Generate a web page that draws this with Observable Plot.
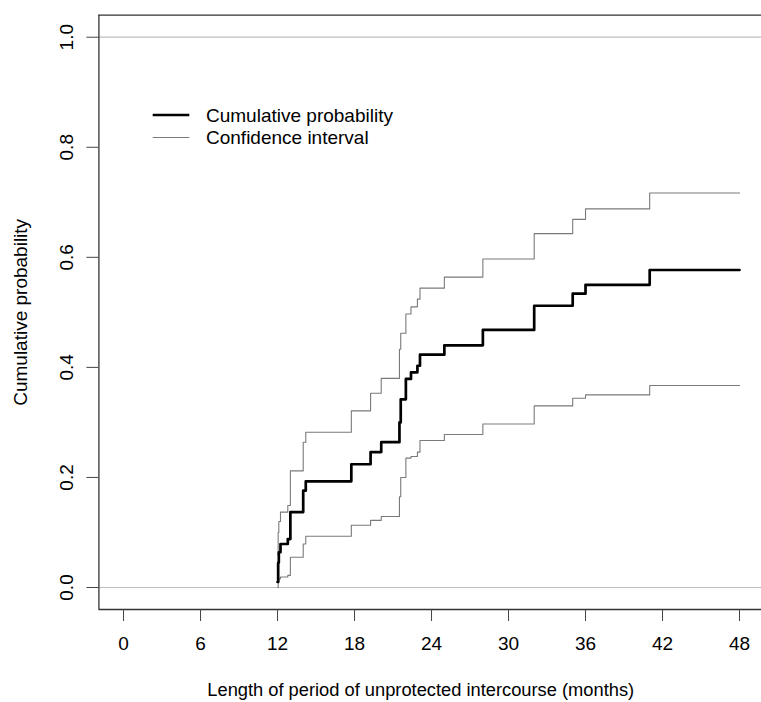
<!DOCTYPE html>
<html><head><meta charset="utf-8">
<script src="https://cdn.jsdelivr.net/npm/d3@7"></script>
<script src="https://cdn.jsdelivr.net/npm/@observablehq/plot@0.6"></script>
<style>
body{margin:0;background:#fff}
#chart{position:relative;width:761px;height:702px}
#chart svg{display:block}
</style>
</head><body><div id="chart"></div>
<script>
// Event times (months) and step values
const months   = [12.0, 12.05, 12.1, 12.23, 12.8, 13.0, 14.0, 14.2, 17.75, 19.25, 20.08, 21.5, 21.6, 22.0, 22.4, 22.9, 23.1, 25, 28, 32, 35, 36, 41, 48];
const cumProb  = [0.010, 0.045, 0.064, 0.079, 0.088, 0.137, 0.176, 0.193, 0.224, 0.246, 0.264, 0.300, 0.342, 0.379, 0.391, 0.403, 0.423, 0.440, 0.468, 0.512, 0.534, 0.550, 0.577, 0.577];
const lowerCI  = [0.000, 0.010, 0.016, 0.019, 0.022, 0.055, 0.079, 0.093, 0.113, 0.122, 0.129, 0.165, 0.200, 0.235, 0.238, 0.246, 0.267, 0.278, 0.297, 0.330, 0.344, 0.350, 0.367, 0.367];
const upperCI  = [0.060, 0.100, 0.120, 0.137, 0.149, 0.212, 0.264, 0.282, 0.321, 0.353, 0.380, 0.433, 0.462, 0.497, 0.510, 0.524, 0.544, 0.564, 0.597, 0.643, 0.669, 0.688, 0.717, 0.717];
const xTicks   = [0, 6, 12, 18, 24, 30, 36, 42, 48];
const yTicks   = [0, 0.2, 0.4, 0.6, 0.8, 1.0];
const refLines = [0, 1];
const legendLabels = ["Cumulative probability", "Confidence interval"];
const xTitle = "Length of period of unprotected intercourse (months)";
const yTitle = "Cumulative probability";

const data = months.map((t, i) => ({t, cum: cumProb[i], lo: lowerCI[i], hi: upperCI[i]}));

const W = 761, H = 702, mL = 98.4, mT = 14.7, mB = 93;
const xDomain = [-1.92, 49.92], yDomain = [-0.04, 1.04];
const pxPerMonth = 12.833;
const xRange = [mL, mL + (xDomain[1] - xDomain[0]) * pxPerMonth];
const font = "'Liberation Sans', Arial, Helvetica, sans-serif";
const fs = 19;

const chart = Plot.plot({
  width: W, height: H,
  marginLeft: mL, marginRight: 0, marginTop: mT, marginBottom: mB,
  x: {domain: xDomain, range: xRange},
  y: {domain: yDomain},
  style: {fontFamily: font, fontSize: fs + "px", color: "#000", background: "#fff", overflow: "hidden"},
  marks: [
    Plot.ruleY(refLines, {stroke: "#bdbdbd", strokeWidth: 1.2}),
    Plot.line(data, {x: "t", y: "lo", curve: "step-after", stroke: "#7a7a7a", strokeWidth: 1.1}),
    Plot.line(data, {x: "t", y: "hi", curve: "step-after", stroke: "#7a7a7a", strokeWidth: 1.1}),
    Plot.line(data, {x: "t", y: "cum", curve: "step-after", stroke: "#000", strokeWidth: 2.7}),
    Plot.ruleY([yDomain[0], yDomain[1]], {stroke: "#333", strokeWidth: 1.3}),
    Plot.ruleX([xDomain[0]], {stroke: "#333", strokeWidth: 1.3}),
    Plot.axisX({ticks: xTicks, tickSize: 12, tickPadding: 15, tickFormat: d => String(d), label: null, stroke: "#444", fontSize: fs}),
    Plot.axisY({ticks: yTicks, tickSize: 12, tickFormat: () => "", label: null, stroke: "#444"}),
    Plot.text(yTicks, {y: d => d, text: d => d.toFixed(1), frameAnchor: "left", dx: -32.4, rotate: -90, textAnchor: "middle", lineAnchor: "middle", fontSize: fs}),
    Plot.text([yTitle], {text: d => d, frameAnchor: "left", dx: -78, rotate: -90, textAnchor: "middle", lineAnchor: "middle", fontSize: fs}),
    Plot.text([xTitle], {text: d => d, frameAnchor: "bottom", dy: 81, dx: -9.5, textAnchor: "middle", lineAnchor: "middle", fontSize: 18.3})
  ]
});
document.getElementById("chart").appendChild(chart);

// Legend (inside the plot area, top-left)
const svg = d3.select(chart);
const lg = svg.append("g").attr("font-family", font).attr("font-size", fs).attr("text-anchor", "start");
const legendItems = [
  {label: legendLabels[0], stroke: "#000", width: 2.7, y: 115},
  {label: legendLabels[1], stroke: "#7a7a7a", width: 1.1, y: 137.5}
];
legendItems.forEach(it => {
  lg.append("line").attr("x1", 152.7).attr("x2", 189.3).attr("y1", it.y).attr("y2", it.y)
    .attr("stroke", it.stroke).attr("stroke-width", it.width);
  lg.append("text").attr("x", 206).attr("y", it.y).attr("dy", "0.35em")
    .attr("text-anchor", "start").attr("fill", "#000").text(it.label);
});
</script>
</body></html>
